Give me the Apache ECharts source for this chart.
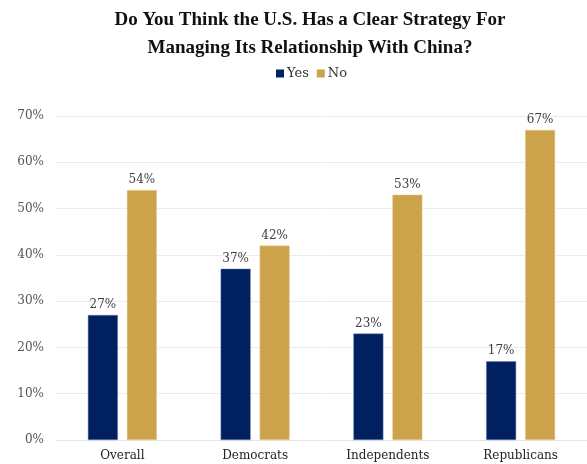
<!DOCTYPE html>
<html><head><meta charset="utf-8">
<script src="https://cdn.jsdelivr.net/npm/echarts@6/dist/echarts.min.js"></script>
<style>html,body{margin:0;padding:0;background:#fff}#c{width:587px;height:464px}</style>
</head><body><div id="c"></div>
<script>
var categories = ['Overall', 'Democrats', 'Independents', 'Republicans'];
var yesValues = [27, 37, 23, 17];
var noValues = [54, 42, 53, 67];
var seriesNames = ['Yes', 'No'];
var titleText = 'Do You Think the U.S. Has a Clear Strategy For\nManaging Its Relationship With China?';

var chart = echarts.init(document.getElementById('c'));
var serif = '"DejaVu Serif", "Liberation Serif", serif';
var lbl = {show: true, position: 'top', distance: 4, formatter: '{c}%', color: '#404040', fontFamily: serif, fontSize: 12};
chart.setOption({
  animation: false,
  title: {text: titleText, left: 305, textAlign: 'center', top: 1,
    textStyle: {fontFamily: '"Liberation Serif", serif', fontWeight: 'bold', fontSize: 19, lineHeight: 28, color: '#111'}},
  legend: {data: seriesNames, top: 62, left: 271, itemWidth: 8, itemHeight: 8, itemGap: 8, icon: 'rect',
    itemStyle: {borderWidth: 0},
    textStyle: {fontFamily: serif, fontSize: 13, color: '#333', padding: [0,0,0,-2]}},
  grid: {left: 56, right: 0, top: 116, bottom: 24, containLabel: false},
  xAxis: {type: 'category', data: categories,
    axisLine: {show: true, lineStyle: {color: '#e6e6e6'}}, axisTick: {show: false},
    axisLabel: {fontFamily: serif, fontSize: 12, color: '#222', margin: 10}},
  yAxis: {type: 'value', min: 0, max: 70, interval: 10,
    axisLabel: {formatter: '{value}%', fontFamily: serif, fontSize: 12, color: '#555', margin: 12},
    splitLine: {lineStyle: {color: '#ececec'}}, axisLine: {show: false}, axisTick: {show: false}},
  series: [
    {name: seriesNames[0], type: 'bar', data: yesValues, barWidth: 30, barGap: '30%',
     itemStyle: {color: '#002060', borderColor: '#6a7fb0', borderWidth: 0.5}, label: lbl},
    {name: seriesNames[1], type: 'bar', data: noValues, barWidth: 30,
     itemStyle: {color: '#CCA24A', borderColor: '#e8d39a', borderWidth: 0.5}, label: lbl}
  ]
});
</script></body></html>
